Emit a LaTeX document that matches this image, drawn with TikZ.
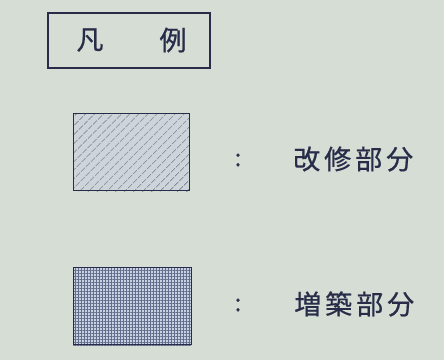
\documentclass[tikz,border=0pt]{standalone}
\usepackage{fontspec}
\newfontfamily\cjk[FakeBold=0.6]{Noto Sans CJK JP}
\usetikzlibrary{patterns.meta}
\definecolor{bg}{RGB}{214,221,212}
\definecolor{ink}{RGB}{40,44,72}
\definecolor{boxfill}{RGB}{206,213,218}
\definecolor{crossfill}{RGB}{200,209,226}
\definecolor{crossline}{RGB}{100,108,140}
\tikzset{
  lbl/.style={font=\cjk\fontsize{27}{27}\selectfont, text=ink, inner sep=0pt},
  colon/.style={font=\cjk\fontsize{24}{24}\selectfont, text=ink, inner sep=0pt},
  frame/.style={draw=ink, line width=1.1pt},
}
\begin{document}
\begin{tikzpicture}[x=1pt,y=1pt]
\fill[bg] (0,0) rectangle (444,360);
\useasboundingbox (0,0) rectangle (444,360);
% title
\node[frame, minimum width=162pt, minimum height=55pt, inner sep=0pt] (title) at (129,319.5) {};
\node[lbl] (t1) at (90,320) {凡};
\node[lbl] (t2) at (173,320) {例};
% hatched box
\fill[boxfill] (73,169) rectangle (189,246);
\pattern[pattern={Lines[angle=45,distance=6.4pt,line width=0.7pt]}, pattern color=ink!75] (73,169) rectangle (189,246);
\node[frame, line width=0.9pt, minimum width=116pt, minimum height=77pt, inner sep=0pt, anchor=south west] (b1) at (73,169) {};
% crosshatched box
\fill[crossfill] (73,15) rectangle (191,92);
\pattern[pattern={Hatch[angle=0,distance=3pt,line width=1pt]}, pattern color=crossline] (73,15) rectangle (191,92);
\node[frame, line width=0.9pt, minimum width=118pt, minimum height=77pt, inner sep=0pt, anchor=south west] (b2) at (73,15) {};
% labels
\node[colon] (c1) at (238,200) {:};
\node[lbl, anchor=west] (l1) at (293,201) {改\hspace{4pt}修\hspace{4pt}部\hspace{4pt}分};
\node[colon] (c2) at (238,55) {:};
\node[lbl, anchor=west] (l2) at (294,56) {増\hspace{4pt}築\hspace{4pt}部\hspace{4pt}分};
\end{tikzpicture}
\end{document}
